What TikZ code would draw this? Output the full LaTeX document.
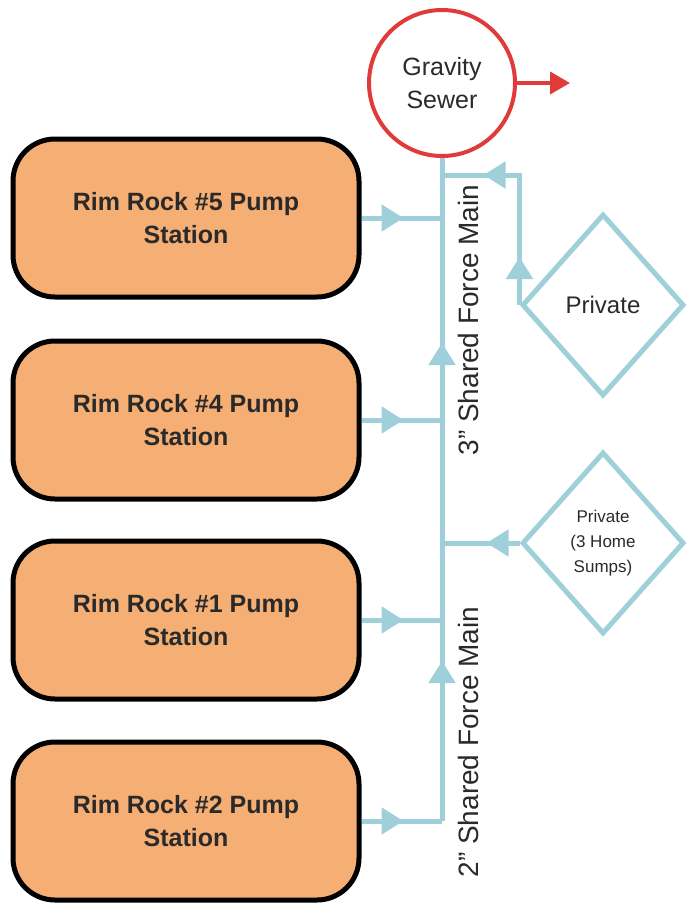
\documentclass[tikz,border=0pt]{standalone}
\usepackage{fontspec}
\setmainfont{Liberation Sans}
\usetikzlibrary{arrows.meta,decorations.markings,shapes.geometric}
\definecolor{pipe}{HTML}{9FD0D9}
\definecolor{boxfill}{HTML}{F5AE73}
\definecolor{sewerred}{HTML}{E03A3A}
\definecolor{txt}{HTML}{2A2A2A}
\tikzset{
  pumpbox/.style={draw=black, line width=5pt, fill=boxfill, rounded corners=42pt,
    minimum width=346pt, minimum height=158pt, inner sep=0pt, align=center,
    font=\fontsize{25}{33}\selectfont\bfseries, text=txt},
  privbox/.style={draw=pipe, line width=5pt, diamond, minimum width=162pt, minimum height=182pt,
    inner sep=0pt, align=center, text=txt},
  pipeline/.style={draw=pipe, line width=5pt},
  midarrow/.style={postaction={decorate,decoration={markings,
    mark=at position #1 with {\arrow{Triangle[length=22pt,width=26pt]}}}}},
  pipelabel/.style={rotate=90, font=\fontsize{28}{32}\selectfont, text=txt}
}
\begin{document}
\begin{tikzpicture}[x=1pt,y=-1pt]
\useasboundingbox (0,0) rectangle (692,908);
% pump stations
\node[pumpbox] (b5) at (186,218) {Rim Rock \#5 Pump\\Station};
\node[pumpbox] (b4) at (186,420) {Rim Rock \#4 Pump\\Station};
\node[pumpbox] (b1) at (186,620) {Rim Rock \#1 Pump\\Station};
\node[pumpbox] (b2) at (186,821) {Rim Rock \#2 Pump\\Station};
% gravity sewer
\node[circle, draw=sewerred, line width=4pt, minimum size=146pt, inner sep=0pt, align=center,
  font=\fontsize{25}{33}\selectfont, text=txt] (gs) at (442,83) {Gravity\\Sewer};
\coordinate (out) at (570,83);
\draw[draw=sewerred, line width=4pt, -{Triangle[length=20pt,width=22pt]}] (gs.east) -- (out);
% private diamonds
\node[privbox, font=\fontsize{24}{28}\selectfont] (p1) at (603,305) {Private};
\node[privbox, font=\fontsize{17}{25}\selectfont] (p2) at (603,543) {Private\\(3 Home\\Sumps)};
% main line junctions
\coordinate (top) at (gs.south);
\coordinate (j5) at (442,218);
\coordinate (j4) at (442,420);
\coordinate (j1) at (442,620);
\coordinate (jp1) at (442,175);
\coordinate (jp2) at (442,543);
\coordinate (j2) at (442,821);
\coordinate (c1) at (p1.west |- jp1);
% main vertical line
\draw[pipeline, midarrow=160pt] (j2) -- (jp2);
\draw[pipeline, midarrow=200pt] (jp2) -- (top);
% pump station branches
\draw[pipeline, midarrow=42pt] (b5.east) -- (j5);
\draw[pipeline, midarrow=42pt] (b4.east) -- (j4);
\draw[pipeline, midarrow=42pt] (b1.east) -- (j1);
\draw[pipeline, midarrow=42pt] (b2.east) -- (j2);
% private branches
\draw[pipeline, midarrow=48pt, midarrow=166pt] (p1.west) -- (c1) -- (jp1);
\draw[pipeline, midarrow=33pt] (p2.west) -- (jp2);
% labels
\node[pipelabel] (l3) at (468,320) {3” Shared Force Main};
\node[pipelabel] (l2) at (468,742) {2” Shared Force Main};
\end{tikzpicture}
\end{document}
